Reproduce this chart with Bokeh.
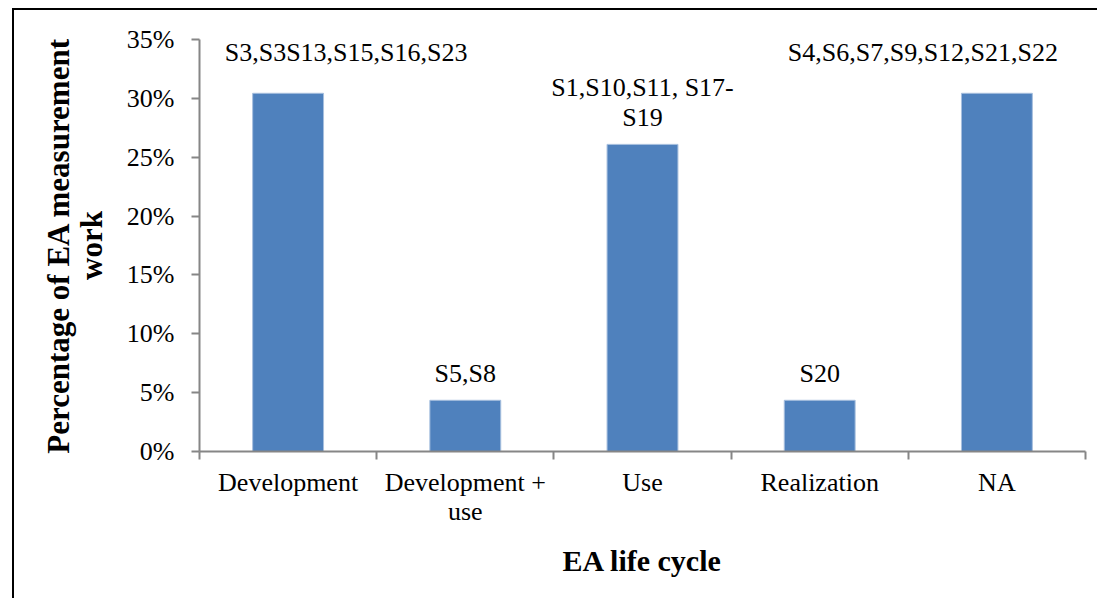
from bokeh.plotting import figure
from bokeh.models import FixedTicker, PrintfTickFormatter, Range1d, ColumnDataSource
from bokeh.core.properties import value
from bokeh.embed import file_html
from bokeh.resources import INLINE

# ---- data ----
categories = ["Development", "Development +\nuse", "Use", "Realization", "NA"]
percentages = [30.43, 4.35, 26.09, 4.35, 30.43]
bar_labels = ["S3,S3S13,S15,S16,S23", "S5,S8", "S1,S10,S11, S17-\nS19", "S20",
              "S4,S6,S7,S9,S12,S21,S22"]
y_ticks = [0, 5, 10, 15, 20, 25, 30, 35]

# ---- label nudges (pixels, styling only) ----
label_dx = [58, 0, 0, 0, -74]
label_dy = [-26, -12, -12, -12, -26]

FONT = "Liberation Serif"
AXIS_GREY = "#868686"
BAR_BLUE = "#4F81BD"

n = len(categories)
xs = [i + 0.5 for i in range(n)]

src = ColumnDataSource(dict(x=xs, top=percentages, label=bar_labels,
                            dx=label_dx, dy=label_dy))

p = figure(width=1085, height=590, output_backend="svg", toolbar_location=None,
           x_range=Range1d(0, n), y_range=Range1d(0, y_ticks[-1]),
           min_border_left=185, min_border_right=14, min_border_top=29,
           min_border_bottom=149)
p.styles = {"border-left": "2px solid black", "border-top": "2px solid black",
            "margin-left": "12px", "margin-top": "8px"}

p.outline_line_color = None
p.xgrid.grid_line_color = None
p.ygrid.grid_line_color = None
p.background_fill_color = "white"
p.border_fill_color = "white"

p.vbar(x="x", top="top", width=0.4, bottom=0, source=src,
       fill_color=BAR_BLUE, line_color="#A7BFDE", line_width=1)

p.text(x="x", y="top", text="label", source=src, x_offset="dx", y_offset="dy",
       text_align="center", text_baseline="bottom",
       text_font=value(FONT), text_font_size="26px", text_color="black",
       text_line_height=1.05)

# y axis
yax = p.yaxis[0]
yax.ticker = FixedTicker(ticks=y_ticks, minor_ticks=[])
yax.formatter = PrintfTickFormatter(format="%d%%")
yax.axis_line_color = AXIS_GREY
yax.axis_line_width = 2
yax.major_tick_line_color = AXIS_GREY
yax.major_tick_line_width = 2
yax.major_tick_in = 0
yax.major_tick_out = 8
yax.minor_tick_line_color = None
yax.major_label_text_font = FONT
yax.major_label_text_font_size = "26px"
yax.major_label_text_color = "black"
yax.major_label_standoff = 17
yax.axis_label = "Percentage of EA measurement\nwork"
yax.axis_label_text_font = FONT
yax.axis_label_text_font_style = "bold"
yax.axis_label_text_font_size = "31px"
yax.axis_label_text_color = "black"
yax.axis_label_text_line_height = 0.95
yax.axis_label_standoff = 15

# x axis
xax = p.xaxis[0]
xax.ticker = FixedTicker(ticks=xs, minor_ticks=list(range(n + 1)))
xax.major_label_overrides = {x: c for x, c in zip(xs, categories)}
xax.axis_line_color = AXIS_GREY
xax.axis_line_width = 2
xax.major_tick_line_color = None
xax.major_tick_in = 0
xax.major_tick_out = 0
xax.minor_tick_line_color = AXIS_GREY
xax.minor_tick_line_width = 2
xax.minor_tick_in = 0
xax.minor_tick_out = 8
xax.major_label_text_font = FONT
xax.major_label_text_font_size = "26px"
xax.major_label_text_color = "black"
xax.major_label_text_line_height = 1.02
xax.major_label_standoff = 8
xax.axis_label = "EA life cycle"
xax.axis_label_text_font = FONT
xax.axis_label_text_font_style = "bold"
xax.axis_label_text_font_size = "30px"
xax.axis_label_text_color = "black"
xax.axis_label_standoff = 15

open("out.html", "w").write(file_html(p, INLINE))
